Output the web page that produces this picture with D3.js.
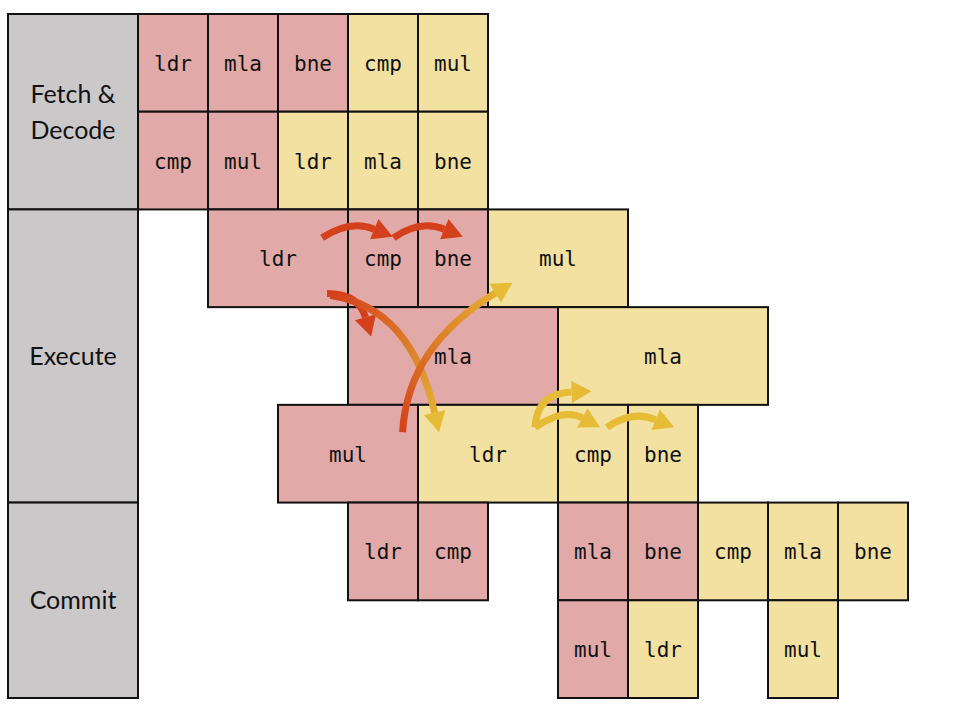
<!DOCTYPE html>
<html><head><meta charset="utf-8">
<script src="https://cdn.jsdelivr.net/npm/d3@7"></script>
<style>body{margin:0;background:#fff}</style></head>
<body><div id="chart"></div>
<script>
// Pipeline diagram: stage labels, instruction cells, forwarding arrows
var stages = [
  {name: ["Fetch &", "Decode"], r0: 0, r1: 2},
  {name: ["Execute"], r0: 2, r1: 5},
  {name: ["Commit"], r0: 5, r1: 7}
];
// [row, firstCol, lastCol, text, thread]
var cells = [
  [0,0,0,"ldr","a"],[0,1,1,"mla","a"],[0,2,2,"bne","a"],[0,3,3,"cmp","b"],[0,4,4,"mul","b"],
  [1,0,0,"cmp","a"],[1,1,1,"mul","a"],[1,2,2,"ldr","b"],[1,3,3,"mla","b"],[1,4,4,"bne","b"],
  [2,1,2,"ldr","a"],[2,3,3,"cmp","a"],[2,4,4,"bne","a"],[2,5,6,"mul","b"],
  [3,3,5,"mla","a"],[3,6,8,"mla","b"],
  [4,2,3,"mul","a"],[4,4,5,"ldr","b"],[4,6,6,"cmp","b"],[4,7,7,"bne","b"],
  [5,3,3,"ldr","a"],[5,4,4,"cmp","a"],[5,6,6,"mla","a"],[5,7,7,"bne","a"],[5,8,8,"cmp","b"],[5,9,9,"mla","b"],[5,10,10,"bne","b"],
  [6,6,6,"mul","a"],[6,7,7,"ldr","b"],[6,9,9,"mul","b"]
];
// arrows in grid units (col, row): start, control, end, start colour, end colour
var arrows = [
  [[2.63,2.29],[3.03,2.1],[3.64,2.28],"a","a"],
  [[3.65,2.29],[4.03,2.1],[4.64,2.28],"a","a"],
  [[2.7,2.86],[3.15,2.86],[3.33,3.3],"a","a"],
  [[2.75,2.88],[3.9,3.0],[4.3,4.28],"a","b"],
  [[3.78,4.28],[3.85,3.4],[5.35,2.75],"a","b"],
  [[5.67,4.23],[5.7,3.88],[6.48,3.86],"b","b"],
  [[5.67,4.23],[6.08,4.03],[6.6,4.23],"b","b"],
  [[6.7,4.23],[7.05,4.05],[7.66,4.23],"b","b"]
];
var fills = {a: "#e1aaa8", b: "#f3e1a2"};
var arrowCol = {a: "#d4401c", b: "#e6bb35"};

var svg = d3.select("#chart").append("svg").attr("width", 956).attr("height", 712);
var x = d3.scaleLinear().domain([0, 11]).range([138, 908]);
var y = d3.scaleLinear().domain([0, 7]).range([14, 698]);

svg.selectAll("rect.stage").data(stages).enter().append("rect")
  .attr("x", 8).attr("width", 130)
  .attr("y", d => y(d.r0)).attr("height", d => y(d.r1) - y(d.r0))
  .attr("fill", "#cbc8c9").attr("stroke", "#111").attr("stroke-width", 2);
svg.selectAll("text.stage").data(stages).enter().append("text")
  .attr("x", 73).attr("text-anchor", "middle")
  .attr("font-family", "Lato, 'Noto Sans', sans-serif").attr("font-size", 25).attr("fill", "#111")
  .each(function(d) {
    var cy = (y(d.r0) + y(d.r1)) / 2, n = d.name.length;
    d3.select(this).selectAll("tspan").data(d.name).enter().append("tspan")
      .attr("x", 73).attr("y", (t, i) => cy + 9 + (i - (n - 1) / 2) * 36).text(t => t);
  });

svg.selectAll("rect.cell").data(cells).enter().append("rect")
  .attr("x", d => x(d[1])).attr("width", d => x(d[2] + 1) - x(d[1]))
  .attr("y", d => y(d[0])).attr("height", y(1) - y(0))
  .attr("fill", d => fills[d[4]]).attr("stroke", "#111").attr("stroke-width", 2);
svg.selectAll("text.cell").data(cells).enter().append("text")
  .attr("x", d => (x(d[1]) + x(d[2] + 1)) / 2).attr("y", d => y(d[0] + 0.5) + 8)
  .attr("text-anchor", "middle").attr("font-family", "'DejaVu Sans Mono', monospace")
  .attr("font-size", 21).attr("fill", "#111").text(d => d[3]);

var defs = svg.append("defs");
arrows.forEach(function(a, i) {
  var p0 = [x(a[0][0]), y(a[0][1])], c = [x(a[1][0]), y(a[1][1])], p1 = [x(a[2][0]), y(a[2][1])];
  var dx = p1[0] - c[0], dy = p1[1] - c[1], L = Math.hypot(dx, dy);
  var ux = dx / L, uy = dy / L, hl = 20, hw = 11;
  var b = [p1[0] - ux * hl, p1[1] - uy * hl];
  var stroke = arrowCol[a[3]], head = arrowCol[a[4]];
  if (a[3] !== a[4]) {
    var g = defs.append("linearGradient").attr("id", "g" + i).attr("gradientUnits", "userSpaceOnUse")
      .attr("x1", p0[0]).attr("y1", p0[1]).attr("x2", p1[0]).attr("y2", p1[1]);
    g.append("stop").attr("offset", 0).attr("stop-color", arrowCol[a[3]]);
    g.append("stop").attr("offset", 1).attr("stop-color", arrowCol[a[4]]);
    stroke = "url(#g" + i + ")";
  }
  svg.append("path").attr("d", d3.path().toString() || `M${p0}Q${c} ${b}`)
    .attr("fill", "none").attr("stroke", stroke).attr("stroke-width", 7);
  svg.append("path")
    .attr("d", `M${p1}L${b[0] - uy * hw},${b[1] + ux * hw}L${b[0] + uy * hw},${b[1] - ux * hw}Z`)
    .attr("fill", head);
});
</script></body></html>
